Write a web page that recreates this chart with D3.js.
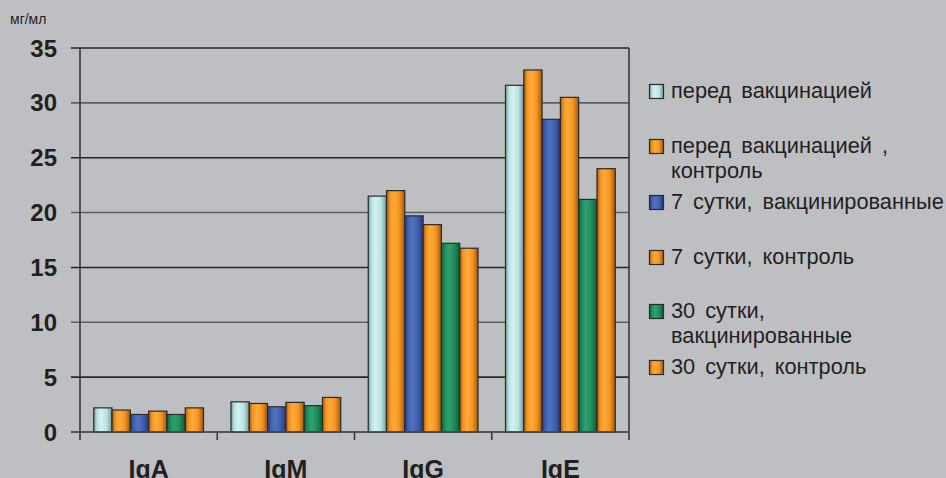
<!DOCTYPE html>
<html>
<head>
<meta charset="utf-8">
<script src="https://cdn.jsdelivr.net/npm/d3@7"></script>
<style>
  html, body { margin: 0; padding: 0; background: #bebfc3; }
  svg { display: block; }
</style>
</head>
<body>
<svg id="chart" width="946" height="478"></svg>
<script>
// Immunoglobulin levels, mg/ml, by group and time point
const categories = ["IgA", "IgM", "IgG", "IgE"];
const seriesNames = [
  ["перед вакцинацией"],
  ["перед вакцинацией ,", "контроль"],
  ["7 сутки, вакцинированные"],
  ["7 сутки, контроль"],
  ["30 сутки,", "вакцинированные"],
  ["30 сутки, контроль"]
];
const beforeVacc      = [2.2, 2.75, 21.5, 31.6];
const beforeControl   = [2.0, 2.6, 22.0, 33.0];
const day7Vacc        = [1.6, 2.3, 19.7, 28.5];
const day7Control     = [1.9, 2.7, 18.9, 30.5];
const day30Vacc       = [1.6, 2.4, 17.2, 21.2];
const day30Control    = [2.2, 3.15, 16.75, 24.0];
const yTicks = [0, 5, 10, 15, 20, 25, 30, 35];
const yUnit = "мг/мл";

const seriesValues = [beforeVacc, beforeControl, day7Vacc, day7Control, day30Vacc, day30Control];
const seriesColors = [
  { base: "#b8e2e3", light: "#d6f0f0", dark: "#6f9899" },
  { base: "#f7941d", light: "#fbab3e", dark: "#9c5810" },
  { base: "#4060ad", light: "#5173bf", dark: "#25397a" },
  { base: "#f7941d", light: "#fbab3e", dark: "#9c5810" },
  { base: "#1f8c5c", light: "#2ea26e", dark: "#125a3a" },
  { base: "#f7941d", light: "#fbab3e", dark: "#9c5810" }
];

const svg = d3.select("#chart");
const plotLeft = 80, plotRight = 629, plotTop = 48, plotBottom = 432;

const y = d3.scaleLinear().domain([0, 35]).range([plotBottom, plotTop]);
const x0 = d3.scaleBand().domain(categories).range([plotLeft, plotRight]).paddingInner(0).paddingOuter(0);
const seriesIdx = d3.range(seriesValues.length);
const x1 = d3.scaleBand().domain(seriesIdx).range([0, x0.bandwidth()]).paddingInner(0).paddingOuter(0.75);

// cylinder-style shading for each series
const defs = svg.append("defs");
seriesColors.forEach((c, i) => {
  const g = defs.append("linearGradient").attr("id", "grad" + i)
    .attr("x1", "0%").attr("x2", "100%").attr("y1", "0%").attr("y2", "0%");
  g.append("stop").attr("offset", "0%").attr("stop-color", c.dark);
  g.append("stop").attr("offset", "18%").attr("stop-color", c.base);
  g.append("stop").attr("offset", "40%").attr("stop-color", c.light);
  g.append("stop").attr("offset", "70%").attr("stop-color", c.base);
  g.append("stop").attr("offset", "100%").attr("stop-color", c.dark);
});

// horizontal gridlines with tick stubs
svg.append("g").selectAll("line").data(yTicks).join("line")
  .attr("x1", plotLeft - 9).attr("x2", plotRight)
  .attr("y1", d => y(d)).attr("y2", d => y(d))
  .attr("stroke", (d, i) => i % 2 === 0 ? "#5e5e60" : "#262628")
  .attr("stroke-width", 1.6);

// y axis labels
svg.append("g").selectAll("text").data(yTicks).join("text")
  .attr("x", 57).attr("y", d => y(d))
  .attr("dy", "0.36em")
  .attr("text-anchor", "end")
  .attr("font-family", "Liberation Sans, Arial, sans-serif")
  .attr("font-weight", "bold")
  .attr("font-size", 24)
  .attr("fill", "#231f20")
  .text(d => d);

svg.append("text")
  .attr("x", 10).attr("y", 24)
  .attr("font-family", "Liberation Sans, Arial, sans-serif")
  .attr("font-size", 14)
  .attr("fill", "#231f20")
  .text(yUnit);

// bars
const groups = svg.append("g").selectAll("g").data(categories).join("g")
  .attr("transform", d => `translate(${x0(d)},0)`);
groups.selectAll("rect")
  .data((cat, ci) => seriesIdx.map(si => ({ si, v: seriesValues[si][ci] })))
  .join("rect")
  .attr("x", d => x1(d.si))
  .attr("width", x1.bandwidth())
  .attr("y", d => y(d.v))
  .attr("height", d => y(0) - y(d.v))
  .attr("fill", d => `url(#grad${d.si})`)
  .attr("stroke", "#2b2b2b")
  .attr("stroke-width", 1.2);

// axes frame: left axis, right edge, category separators
const frame = svg.append("g").attr("stroke", "#3a3a3c").attr("stroke-width", 1.6);
frame.append("line").attr("x1", plotLeft).attr("x2", plotLeft).attr("y1", plotTop).attr("y2", plotBottom + 8);
frame.append("line").attr("x1", plotRight).attr("x2", plotRight).attr("y1", plotTop).attr("y2", plotBottom + 8);
frame.selectAll("line.sep").data(categories.slice(1)).join("line").attr("class", "sep")
  .attr("x1", d => x0(d)).attr("x2", d => x0(d))
  .attr("y1", plotBottom).attr("y2", plotBottom + 8);
// zero line drawn over the bar bottoms
svg.append("line").attr("x1", plotLeft - 9).attr("x2", plotRight)
  .attr("y1", y(0)).attr("y2", y(0))
  .attr("stroke", "#4a4a4c").attr("stroke-width", 1.6);

// category labels
svg.append("g").selectAll("text").data(categories).join("text")
  .attr("x", d => x0(d) + x0.bandwidth() / 2)
  .attr("y", 478)
  .attr("text-anchor", "middle")
  .attr("font-family", "Liberation Sans, Arial, sans-serif")
  .attr("font-weight", "bold")
  .attr("font-size", 25)
  .attr("fill", "#231f20")
  .text(d => d);

// legend: baselines of the first line of each entry
const legendBase = [98, 153, 209, 264, 318, 374];
const legendX = 671;
const legend = svg.append("g");
seriesNames.forEach((lines, i) => {
  const b = legendBase[i];
  legend.append("rect")
    .attr("x", 649.5).attr("y", b - 13.5)
    .attr("width", 14).attr("height", 14)
    .attr("fill", `url(#grad${i})`)
    .attr("stroke", "#2b2b2b").attr("stroke-width", 1.2);
  const label = legend.append("text")
    .attr("transform", `translate(${legendX},${b}) scale(0.99,1)`)
    .attr("font-family", "Liberation Sans, Arial, sans-serif")
    .attr("font-size", 22)
    .attr("word-spacing", 4)
    .attr("fill", "#231f20");
  lines.forEach((t, k) => {
    label.append("tspan")
      .attr("x", 0).attr("y", k * 25)
      .text(t);
  });
});
</script>
</body>
</html>
